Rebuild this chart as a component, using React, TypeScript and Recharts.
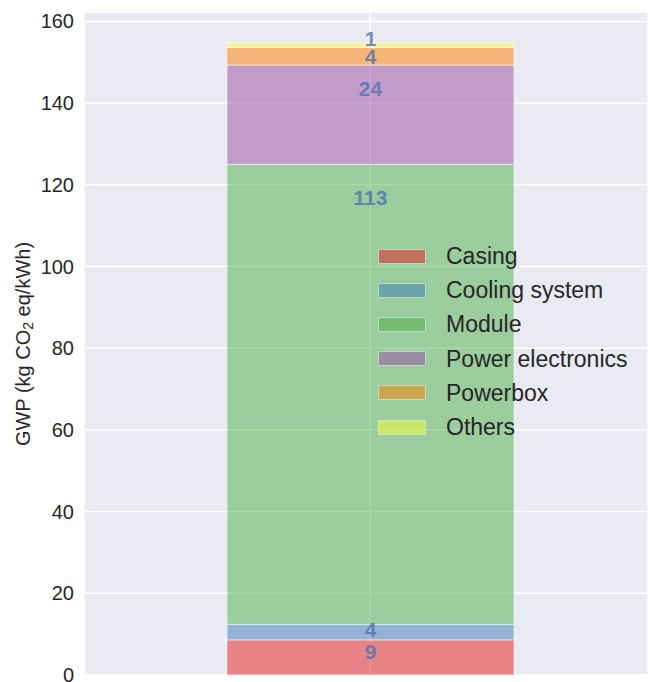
import React from "react";
import { BarChart, Bar, XAxis, YAxis, CartesianGrid, Legend, LabelList } from "recharts";

const categories = ["Battery pack"];
const seriesNames = ["Casing", "Cooling system", "Module", "Power electronics", "Powerbox", "Others"];
const casing = [8.6];
const coolingSystem = [3.8];
const moduleValues = [112.6];
const powerElectronics = [24.3];
const powerbox = [4.3];
const others = [1.1];
const yTicks = [0, 20, 40, 60, 80, 100, 120, 140, 160];

const seriesValues = [casing, coolingSystem, moduleValues, powerElectronics, powerbox, others];
const seriesKeys = ["casing", "cooling", "module", "pe", "powerbox", "others"];
const colors = ["#e41a1c", "#377eb8", "#4daf4a", "#984ea3", "#ff7f00", "#ffff33"];
// vertical placement of each value label within its segment (fraction of segment height from top)
const labelFrac = [0.34, 0.33, 0.072, 0.24, 0.5, -1.0];

const data = categories.map((c, i) => {
  const row: any = { name: c };
  seriesKeys.forEach((k, j) => {
    row[k] = seriesValues[j][i];
  });
  return row;
});

const FONT = "Liberation Sans, Arial, sans-serif";

const makeLabel = (frac: number) => (props: any) => {
  const { x, y, width, height, value } = props;
  return (
    <text
      x={x + width / 2}
      y={y + height * frac}
      textAnchor="middle"
      dominantBaseline="central"
      fill="#4c72b0"
      fillOpacity={0.8}
      fontWeight="bold"
      fontSize={21}
      fontFamily={FONT}
    >
      {Math.round(value)}
    </text>
  );
};

const LegendContent = () => (
  <div style={{ fontFamily: FONT }}>
    {seriesNames.map((n, i) => (
      <div key={n} style={{ display: "flex", alignItems: "center", height: 34.2 }}>
        <div
          style={{
            width: 48,
            height: 15,
            background: colors[i],
            opacity: 0.5,
            border: "1px solid rgba(255,255,255,0.8)",
            boxSizing: "border-box",
          }}
        />
        <span style={{ marginLeft: 20, fontSize: 23, color: "#262626", lineHeight: "34px", whiteSpace: "nowrap" }}>{n}</span>
      </div>
    ))}
  </div>
);

export default function App() {
  return (
    <div
      style={{
        position: "absolute",
        left: 0,
        top: 0,
        width: 648,
        height: 682,
        overflow: "hidden",
        background: "#ffffff",
      }}
    >
      <BarChart
        width={648}
        height={682}
        data={data}
        margin={{ top: 12, right: 0, bottom: 7, left: 0 }}
        barSize={287}
      >
        <CartesianGrid fill="#eaeaf2" stroke="#ffffff" strokeWidth={1.5} vertical={true} horizontal={true} />
        <XAxis dataKey="name" hide padding={{ left: 8, right: 0 }} />
        <YAxis
          width={84}
          domain={[0, 162.3]}
          ticks={yTicks}
          interval={0}
          allowDataOverflow
          axisLine={false}
          tickLine={false}
          tickSize={0}
          tickMargin={10}
          tick={{ fill: "#262626", fontSize: 20, fontFamily: FONT }}
        />
        <Legend
          layout="horizontal"
          verticalAlign="middle"
          align="center"
          content={<LegendContent />}
          wrapperStyle={{ position: "absolute", left: 378, top: 239, width: 265, height: 210 }}
        />
        {seriesKeys.map((k, i) => (
          <Bar
            key={k}
            dataKey={k}
            name={seriesNames[i]}
            stackId="a"
            fill={colors[i]}
            fillOpacity={0.5}
            stroke="#ffffff"
            strokeOpacity={0.5}
            strokeWidth={1}
            isAnimationActive={false}
          >
            <LabelList dataKey={k} content={makeLabel(labelFrac[i])} />
          </Bar>
        ))}
        <text
          transform="translate(23,344) rotate(-90)"
          textAnchor="middle"
          dominantBaseline="central"
          fontSize={20}
          fill="#262626"
          fontFamily={FONT}
        >
          GWP (kg CO
          <tspan fontSize={14} dy={5}>2</tspan>
          <tspan dy={-5}> eq/kWh)</tspan>
        </text>
      </BarChart>
    </div>
  );
}
